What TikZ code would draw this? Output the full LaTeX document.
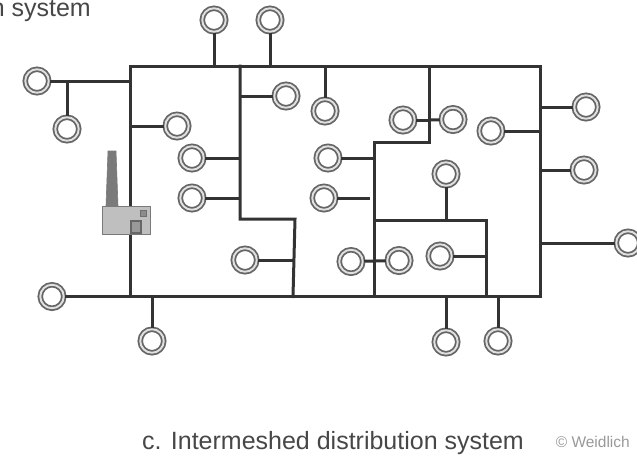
\documentclass[tikz,border=0pt]{standalone}
\usepackage{fontspec}
\setmainfont{Liberation Sans}
\definecolor{ln}{HTML}{333333}
\tikzset{
 ring/.style={circle,draw=ln!75,double=black!12,line width=1.8pt,double distance=1.9pt,fill=white,inner sep=0pt,minimum size=23.5pt,outer sep=1.5pt},
 wire/.style={draw=ln,line width=3pt,line cap=rect},
 lead/.style={draw=ln,line width=3pt},
 captext/.style={font=\fontsize{25}{30}\selectfont,text=ln!90,inner sep=0pt},
}
\begin{document}
\begin{tikzpicture}[x=1pt,y=-1pt]
\useasboundingbox (0,0) rectangle (637,456);
\clip (0,0) rectangle (637,456);
% junction coordinates
\coordinate (tl) at (130,66);
\coordinate (tr) at (540,66);
\coordinate (bl) at (130,296.5);
\coordinate (br) at (540,296.5);
\coordinate (a1) at (240,66);
\coordinate (a2) at (240,219);
\coordinate (a3) at (295,219);
\coordinate (a4) at (293,296.5);
\coordinate (b1) at (429,66);
\coordinate (b2) at (429,142);
\coordinate (b3) at (374,142);
\coordinate (b4) at (374,296.5);
\coordinate (c1) at (374,220);
\coordinate (c2) at (486,220);
\coordinate (c3) at (486,296.5);
\coordinate (j1) at (67,81);
\coordinate (j2) at (429,120);
\coordinate (e16) at (370,198);
% main grid
\draw[wire] (tl) rectangle (br);
\draw[wire,line join=miter] (a1) -- (a2) -- (a3) -- (a4);
\draw[wire,line join=miter] (b1) -- (b2) -- (b3) -- (b4);
\draw[wire,line join=miter] (c1) -- (c2) -- (c3);
% factory
\node[draw=ln!65,line width=0.8pt,fill=black!25,minimum width=48pt,minimum height=28pt,inner sep=0pt] (fac) at (126,220) {};
\node[draw=ln!75,line width=1.6pt,fill=black!40,minimum width=10pt,minimum height=12pt,inner sep=0pt,anchor=south] (door) at (136,234) {};
\node[draw=ln!70,line width=0.6pt,fill=black!45,minimum width=6pt,minimum height=6pt,inner sep=0pt] (win) at (143,213) {};
\fill[black!52,draw=ln!65,line width=0.6pt] (106,206) -- (108,151) -- (116,151) -- (118,206) -- cycle;
% consumers
\node[ring] (n1) at (214,20) {};
\node[ring] (n2) at (270,20) {};
\node[ring] (n3) at (37,81) {};
\node[ring] (n4) at (67,129) {};
\node[ring] (n5) at (177,126) {};
\node[ring] (n6) at (286,96) {};
\node[ring] (n7) at (192,158) {};
\node[ring] (n8) at (192,198) {};
\node[ring] (n9) at (325,111) {};
\node[ring] (n10) at (403,120) {};
\node[ring] (n11) at (453,119.5) {};
\node[ring] (n12) at (491,131) {};
\node[ring] (n13) at (586,107) {};
\node[ring] (n14) at (584,170) {};
\node[ring] (n15) at (328,158) {};
\node[ring] (n16) at (324,198) {};
\node[ring] (n17) at (446,174) {};
\node[ring] (n18) at (245,260) {};
\node[ring] (n19) at (351,261.5) {};
\node[ring] (n20) at (399,260.5) {};
\node[ring] (n21) at (440,256) {};
\node[ring] (n22) at (628,243) {};
\node[ring] (n23) at (52,296.5) {};
\node[ring] (n24) at (152,341) {};
\node[ring] (n25) at (446,342) {};
\node[ring] (n26) at (498,341) {};
% leads
\draw[lead] (n1) -- (n1 |- tl);
\draw[lead] (n2) -- (n2 |- tl);
\draw[lead] (n3) -- (n3 -| tl);
\draw[lead] (n4) -- (j1);
\draw[lead] (n5) -- (n5 -| tl);
\draw[lead] (n6) -- (n6 -| a1);
\draw[lead] (n7) -- (n7 -| a1);
\draw[lead] (n8) -- (n8 -| a1);
\draw[lead] (n9) -- (n9 |- tl);
\draw[lead] (n10) -- (j2);
\draw[lead] (n11) -- (j2);
\draw[lead] (n12) -- (n12 -| tr);
\draw[lead] (n13) -- (n13 -| tr);
\draw[lead] (n14) -- (n14 -| tr);
\draw[lead] (n15) -- (n15 -| b3);
\draw[lead] (n16) -- (e16);
\draw[lead] (n17) -- (n17 |- c1);
\draw[lead] (n18) -- (n18 -| a4);
\draw[lead] (n19) -- (n20);
\draw[lead] (n21) -- (n21 -| c2);
\draw[lead] (n22) -- (n22 -| tr);
\draw[lead] (n23) -- (n23 -| bl);
\draw[lead] (n24) -- (n24 |- bl);
\draw[lead] (n25) -- (n25 |- bl);
\draw[lead] (n26) -- (n26 |- bl);
% texts
\node[captext,anchor=base east] (t1) at (91,16) {n system};
\node[captext,anchor=base west] (t2) at (142,449) {c. Intermeshed distribution system};
\node[anchor=base east,inner sep=0pt,text=black!40,font=\fontsize{15.5}{18}\selectfont] (t3) at (630,447) {© Weidlich};
\end{tikzpicture}
\end{document}
